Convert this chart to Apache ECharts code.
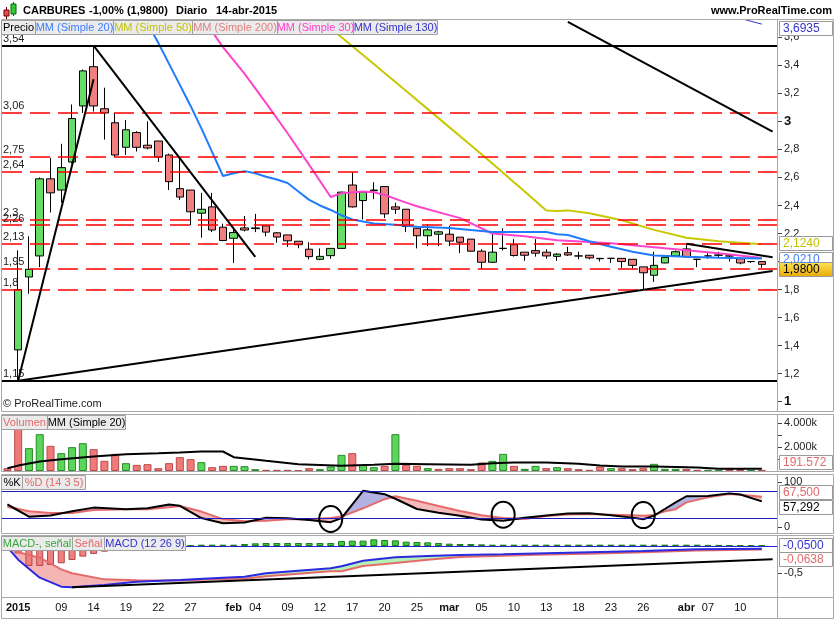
<!DOCTYPE html>
<html><head><meta charset="utf-8">
<script src="https://cdn.jsdelivr.net/npm/echarts@6/dist/echarts.min.js"></script>
<style>html,body{margin:0;padding:0;background:#fff}#c{width:835px;height:620px}</style>
</head><body><div id="c"></div>
<script>
// ---------------- DATA ----------------
const dates = ['2014-12-31',
'2015-01-02','2015-01-05','2015-01-07','2015-01-08','2015-01-09','2015-01-12','2015-01-13','2015-01-14','2015-01-15','2015-01-16','2015-01-19','2015-01-20','2015-01-21','2015-01-22','2015-01-23','2015-01-26','2015-01-27','2015-01-28','2015-01-29','2015-01-30',
'2015-02-02','2015-02-03','2015-02-04','2015-02-05','2015-02-06','2015-02-09','2015-02-10','2015-02-11','2015-02-12','2015-02-13','2015-02-16','2015-02-17','2015-02-18','2015-02-19','2015-02-20','2015-02-23','2015-02-24','2015-02-25','2015-02-26','2015-02-27',
'2015-03-02','2015-03-03','2015-03-04','2015-03-05','2015-03-06','2015-03-09','2015-03-10','2015-03-11','2015-03-12','2015-03-13','2015-03-16','2015-03-17','2015-03-18','2015-03-19','2015-03-20','2015-03-23','2015-03-24','2015-03-25','2015-03-26','2015-03-27','2015-03-30','2015-03-31',
'2015-04-01','2015-04-02','2015-04-07','2015-04-08','2015-04-09','2015-04-10','2015-04-13','2015-04-14'];

const dateTicks = [['2015-01-02','2015'],['2015-01-09','09'],['2015-01-14','14'],['2015-01-19','19'],['2015-01-22','22'],['2015-01-27','27'],
['2015-02-02','feb'],['2015-02-04','04'],['2015-02-09','09'],['2015-02-12','12'],['2015-02-17','17'],['2015-02-20','20'],['2015-02-25','25'],
['2015-03-02','mar'],['2015-03-05','05'],['2015-03-10','10'],['2015-03-13','13'],['2015-03-18','18'],['2015-03-23','23'],['2015-03-26','26'],
['2015-04-01','abr'],['2015-04-07','07'],['2015-04-10','10']];

const opens  = [null,1.37,1.89,2.04,2.59,2.51,2.71,3.11,3.39,3.09,2.99,2.815,2.92,2.83,2.86,2.76,2.52,2.51,2.345,2.39,2.245,2.166,2.24,2.24,2.255,2.205,2.19,2.145,2.088,2.016,2.042,2.094,2.546,2.435,2.51,2.535,2.39,2.373,2.238,2.184,2.195,2.195,2.174,2.16,2.074,1.995,2.095,2.12,2.067,2.078,2.067,2.037,2.063,2.04,2.045,2.023,2.023,2.023,2.016,1.962,1.902,1.99,2.04,2.09,2.016,2.04,2.047,2.04,2.02,2.0,2.0];
const closes = [null,1.80,1.945,2.59,2.49,2.67,3.02,3.36,3.11,3.06,2.76,2.94,2.815,2.81,2.745,2.57,2.46,2.355,2.373,2.225,2.15,2.207,2.225,2.235,2.21,2.175,2.148,2.12,2.035,2.037,2.094,2.495,2.39,2.495,2.505,2.34,2.373,2.25,2.184,2.226,2.212,2.146,2.138,2.074,1.995,2.067,2.093,2.043,2.045,2.06,2.04,2.053,2.047,2.04,2.026,2.02,2.023,2.0,1.973,1.92,1.973,2.03,2.07,2.034,2.016,2.04,2.045,2.04,1.99,2.0,1.98];
const lows   = [null,1.15,1.77,1.96,2.35,2.42,2.70,3.06,3.07,2.87,2.745,2.76,2.785,2.80,2.71,2.51,2.44,2.26,2.17,2.21,2.145,1.99,2.215,2.21,2.18,2.135,2.105,2.095,2.016,2.01,2.02,2.09,2.385,2.30,2.445,2.31,2.34,2.21,2.094,2.11,2.11,2.11,2.06,2.07,1.947,1.99,2.08,2.035,2.005,2.035,2.02,2.005,2.04,2.016,2.016,2.0,1.99,1.955,1.95,1.80,1.855,1.988,2.04,2.03,1.96,2.02,2.023,2.0,1.98,1.99,1.955];
const highs  = [null,2.08,2.18,2.60,2.74,2.84,3.12,3.37,3.54,3.24,3.06,3.01,2.93,3.00,2.86,2.77,2.74,2.51,2.49,2.49,2.27,2.235,2.325,2.34,2.255,2.21,2.19,2.145,2.138,2.094,2.095,2.50,2.635,2.50,2.566,2.535,2.42,2.375,2.24,2.266,2.22,2.256,2.175,2.16,2.088,2.213,2.238,2.16,2.067,2.16,2.088,2.06,2.105,2.07,2.047,2.025,2.025,2.025,2.016,1.962,2.07,2.03,2.08,2.124,2.02,2.06,2.07,2.05,2.02,2.0,2.0];

// volume in thousands
const volumes = [236,3569,1903,3069,2097,1486,1986,2319,1819,847,1431,653,514,569,236,653,1153,986,736,319,431,431,403,153,97,97,97,60,236,153,375,1347,1486,514,319,431,3069,514,431,236,181,236,236,153,708,847,1431,431,181,431,236,319,236,153,97,375,236,236,153,236,597,181,181,181,97,97,97,153,153,97,97];
const volMA20 = [[0,236],[1,450],[3,792],[5,986],[8,1200],[11,1400],[14,1480],[16,1540],[18,1620],[20,1625],[21,1150],[24,850],[27,570],[31,430],[34,514],[36,597],[39,569],[43,514],[45,650],[47,700],[50,700],[53,600],[55,460],[57,375],[60,375],[64,290],[66,190],[70,191.572]];

const sma20 = [[13,3.70],[14,3.56],[15,3.41],[16,3.26],[17,3.11],[18,2.95],[19,2.78],[20,2.61],[21,2.63],[22,2.645],[23,2.63],[24,2.605],[25,2.585],[26,2.56],[27,2.50],[28,2.44],[29,2.40],[30,2.368],[31,2.33],[32,2.30],[33,2.285],[34,2.272],[36,2.262],[38,2.248],[41,2.24],[43,2.225],[45,2.211],[50,2.211],[51,2.195],[52,2.19],[54,2.145],[56,2.105],[58,2.07],[60,2.043],[63,2.034],[66,2.027],[70,2.021]];
const sma30 = [[18,3.77],[19,3.64],[20,3.53],[22,3.34],[24,3.13],[26,2.915],[28,2.69],[30,2.46],[31,2.487],[33,2.499],[34,2.494],[35,2.475],[37,2.42],[38,2.395],[42,2.31],[45,2.20],[48,2.18],[51,2.152],[56,2.13],[61,2.095],[66,2.06],[70,2.025]];
const sma50 = [[29,3.73],[31,3.60],[34,3.409],[37,3.216],[40,3.023],[43,2.83],[45,2.70],[47,2.565],[48,2.50],[50,2.365],[51,2.36],[52,2.365],[54,2.345],[57,2.295],[60,2.226],[63,2.17],[66,2.145],[70,2.124]];
const sma130 = [[68,3.735],[69,3.714],[70,3.6935]];

const redLevels = [3.06, 2.75, 2.64, 2.3, 2.26, 2.13, 1.95, 1.8];
const blackLevels = [3.54, 1.15];
const trendLines = [[[1,1.15],[8,3.30]],[[8,3.54],[23,2.033]],[[52,3.71],[71,2.927]],[[1,1.15],[71,1.933]],[[63,2.127],[71,2.03]]];

const stochIdx = [0,2,4,6,8,11,13,15,16,18,20,22,24,26,28,30,31,33,35,36,38,40,42,44,46,48,50,52,54,56,58,59,60,61,62,63,65,67,68,70];
const stochK = [50.8,23.5,26,35.5,43.5,40,42,50.5,47.5,20.5,9.2,10.8,21.4,20,16.3,11.5,20.5,80.5,73,63,40.5,32,25.5,17.5,14.7,21,26,30.5,31,26.5,21.5,18,26,40.5,55,68.5,69,74.8,72.5,57.292];
const stochD = [45.5,35.5,31.5,31.5,38.5,39.8,39.8,44.5,47,34.8,18.3,13.5,14.5,17.8,17.8,20.5,23.8,42,62,68.5,58.5,47,36,26.5,20.5,18.5,25,28.5,29.2,28,26.5,25.5,27.5,35.5,40,55,66,73.4,72,67.5];
const stochCircles = [[30.1,18.5],[46.1,28],[59.2,27]];

const macdIdx = [0,1,3,5,6,9,12,16,20,22,24,27,30,31,33,36,39,42,46,50,54,59,64,70];
const macdLine = [-0.02,-0.25,-0.58,-0.745,-0.757,-0.715,-0.655,-0.623,-0.58,-0.562,-0.50,-0.452,-0.409,-0.37,-0.27,-0.207,-0.183,-0.165,-0.153,-0.134,-0.116,-0.092,-0.061,-0.05];
const macdSignal = [0.03,-0.116,-0.214,-0.428,-0.50,-0.611,-0.625,-0.633,-0.604,-0.60,-0.555,-0.507,-0.464,-0.462,-0.368,-0.311,-0.25,-0.202,-0.177,-0.158,-0.14,-0.116,-0.081,-0.0638];
const macdHist = [null,-0.134,-0.366,-0.366,-0.348,-0.317,-0.256,-0.195,-0.146,-0.104,
 -0.07,-0.05,-0.03,-0.02,-0.01,0.0,0.01,0.015,0.024,0.024,
 0.024,0.024,0.037,0.049,0.055,0.055,0.055,0.055,0.055,0.055,
 0.055,0.092,0.098,0.098,0.122,0.11,0.104,0.079,0.073,0.067,
 0.055,0.043,0.037,0.037,0.03,0.024,0.024,0.024,0.024,0.024,
 0.024,0.024,0.024,0.024,0.024,0.024,0.024,0.024,0.024,0.024,
 0.024,0.024,0.024,0.024,0.024,0.02,0.02,0.018,0.018,0.015,0.012];
const macdTrend = [[6,-0.757],[71,-0.241]];

const priceTicks = [1,1.2,1.4,1.6,1.8,2,2.2,2.4,2.6,2.8,3,3.2,3.4,3.6];
const volTicks = [1000,2000,3000,4000];
const volLabels = [2000,4000];
const stochTicks = [0,100];
const macdTicks = [-0.5];

// ---------------- CHART ----------------
const FONT = '"Liberation Sans", Arial, sans-serif';
const chart = echarts.init(document.getElementById('c'), null, {renderer:'canvas'});
const cats = dates.concat(['']);
const tickMap = {}; dateTicks.forEach(function(d){ tickMap[d[0]] = d[1]; });
const comma = function(v){ return String(v).replace('.', ','); };

const grids = [
  {left:2, top:20, width:776, height:391},
  {left:2, top:415, width:776, height:56},
  {left:2, top:475, width:776, height:58},
  {left:2, top:536, width:776, height:61}
];
const xAxes = [0,1,2,3].map(function(i){
  return {type:'category', gridIndex:i, data:cats, boundaryGap:true,
    axisLine:{show:false}, axisTick:{show:false}, splitLine:{show:false},
    axisLabel: i === 3 ? {show:true, interval:0, margin:5, color:'#111', fontSize:11, fontFamily:FONT,
      formatter:function(v){ var l = tickMap[v]; if(!l) return ''; return (l.length === 2) ? l : '{b|' + l + '}'; },
      rich:{b:{fontWeight:'bold', fontSize:11, fontFamily:FONT, color:'#111'}}} : {show:false}};
});
function yAx(i, min, max, ticks, labels, fmt){
  return {type:'value', gridIndex:i, position:'right', min:min, max:max, scale:false,
    splitLine:{show:false}, axisLine:{show:false},
    axisTick:{show:true, length:4, customValues:ticks, lineStyle:{color:'#444'}},
    axisLabel:{show:true, customValues:labels, formatter:fmt, margin:6, fontSize:11, color:'#222', fontFamily:FONT,
      rich:{b:{fontWeight:'bold', fontSize:13, fontFamily:FONT, color:'#111'}}}};
}
const yAxes = [
  yAx(0, 0.934, 3.723, priceTicks, priceTicks, function(v){ var r = Math.round(v*10)/10; return Number.isInteger(r) ? '{b|' + r + '}' : comma(r); }),
  yAx(1, 0, 4667, volTicks, volLabels, function(v){ return (v/1000) + '.000k'; }),
  yAx(2, -12.3, 115.2, stochTicks, stochTicks, function(v){ return String(v); }),
  yAx(3, -0.934, 0.183, macdTicks, macdTicks, function(v){ return comma(v); })
];

const candleData = dates.map(function(d, i){ return opens[i] == null ? '-' : [opens[i], closes[i], lows[i], highs[i]]; });
const volData = volumes.map(function(v, i){
  var up = closes[i] != null && i > 0 && closes[i-1] != null && closes[i] > closes[i-1];
  return {value:v, itemStyle:{color: up ? '#5ad65a' : '#f07a7a', borderColor: up ? '#2b8a2b' : '#b84d4d', borderWidth:1}};
});

const mlRed = redLevels.map(function(v){ return {yAxis:v, lineStyle:{color:'#ff0000', width:1.5, type:[20,8]},
  label:{show:true, position:'insideStartTop', formatter:comma(v), color:'#222', fontSize:11, fontFamily:FONT, distance:[1,1]}}; });
const mlBlack = blackLevels.map(function(v){ return {yAxis:v, lineStyle:{color:'#000', width:2, type:'solid'},
  label:{show:true, position:'insideStartTop', formatter:comma(v), color:'#222', fontSize:11, fontFamily:FONT, distance:[1,1]}}; });
const mlTrend = trendLines.map(function(t){ return [{coord:t[0]}, {coord:t[1]}]; });

function pairs(idx, vals){ return idx.map(function(x, k){ return [x, vals[k]]; }); }
function bandSeries(idx, a, b, xi, colUp, colDn, stack){
  var base = idx.map(function(x,k){ return [x, Math.min(a[k], b[k])]; });
  var up = idx.map(function(x,k){ return [x, Math.max(a[k]-b[k], 0)]; });
  var dn = idx.map(function(x,k){ return [x, Math.max(b[k]-a[k], 0)]; });
  var common = {type:'line', xAxisIndex:xi, yAxisIndex:xi, stack:stack, stackStrategy:'all', symbol:'none', showSymbol:false, silent:true, lineStyle:{width:0, opacity:0}, z:2};
  return [
    Object.assign({}, common, {data:base}),
    Object.assign({}, common, {data:up, areaStyle:{color:colUp, opacity:1}}),
    Object.assign({}, common, {data:dn, areaStyle:{color:colDn, opacity:1}})
  ];
}
function ma(data, color, width, xi){ return {type:'line', xAxisIndex:xi||0, yAxisIndex:xi||0, data:data, symbol:'none', showSymbol:false, silent:true, lineStyle:{color:color, width:width}, z:4}; }

const series = [
  {type:'candlestick', xAxisIndex:0, yAxisIndex:0, data:candleData, barWidth:8, z:3,
   itemStyle:{color:'#66dd66', color0:'#f08080', borderColor:'#000', borderColor0:'#000', borderColorDoji:'#000', borderWidth:1},
   markLine:{symbol:['none','none'], silent:true, animation:false, data: mlRed.concat(mlBlack, mlTrend.map(function(p){ return [Object.assign({lineStyle:{color:'#000', width:2, type:'solid'}, label:{show:false}}, p[0]), p[1]]; }))}},
  ma(sma130, '#3333cc', 1),
  ma(sma50, '#c8c800', 2),
  ma(sma30, '#ff44cc', 2),
  ma(sma20, '#1f7bff', 2),
  {type:'bar', xAxisIndex:1, yAxisIndex:1, data:volData, barWidth:8, silent:true, z:2},
  ma(volMA20, '#000', 2, 1)
].concat(
  bandSeries(stochIdx, stochK, stochD, 2, '#b3b3e3', '#f5baba', 'st'),
  [
    ma(pairs(stochIdx, stochD), '#e56b6b', 2, 2),
    Object.assign(ma(pairs(stochIdx, stochK), '#000', 2, 2), {markLine:{symbol:['none','none'], silent:true, label:{show:false},
      data:[{yAxis:80, lineStyle:{color:'#1c1cc0', width:1, type:'solid'}}, {yAxis:20, lineStyle:{color:'#1c1cc0', width:1, type:'solid'}}]}})
  ],
  bandSeries(macdIdx, macdLine, macdSignal, 3, '#b5f0b5', '#f5b5b5', 'mc'),
  [
    {type:'bar', xAxisIndex:3, yAxisIndex:3, barWidth:7, silent:true, z:3,
     data: macdHist.map(function(v){ return v == null ? '-' : {value:v, itemStyle: v >= 0 ? {color:'#3ccf3c', borderColor:'#1d7d1d', borderWidth:1} : {color:'#f08080', borderColor:'#b04848', borderWidth:1}}; })},
    ma(pairs(macdIdx, macdSignal), '#e56b6b', 2, 3),
    Object.assign(ma(pairs(macdIdx, macdLine), '#2a2ae0', 2, 3), {markLine:{symbol:['none','none'], silent:true, label:{show:false},
      data:[{yAxis:0, lineStyle:{color:'#2222cc', width:1, type:'solid'}}, [{coord:macdTrend[0], lineStyle:{color:'#000', width:2, type:'solid'}}, {coord:macdTrend[1]}]]}})
  ]
);

// static graphics
const FR = '#a8a8a8';
const G = [];
function R(x,y,w,h,fill,stroke,z){ G.push({type:'rect', silent:true, z:z||50, shape:{x:x,y:y,width:w,height:h}, style:{fill:fill||'none', stroke:stroke||null, lineWidth:1}}); }
function L(x1,y1,x2,y2,c,z){ G.push({type:'line', silent:true, z:z||50, shape:{x1:x1,y1:y1,x2:x2,y2:y2}, style:{stroke:c||FR, lineWidth:1}}); }
function T(x,y,t,o){ G.push({type:'text', silent:true, z:(o&&o.z)||101, x:x, y:y, style:{text:t, font:(o&&o.font)||('11px '+FONT), fill:(o&&o.fill)||'#000', align:(o&&o.align)||'left', verticalAlign:'middle'}}); }
// header
R(0,0,835,19,'#fff',null,90);
L(6.5,7,6.5,19,'#600',91); R(4,10,5,6,'#e05050','#700',91);
L(13.5,2,13.5,16,'#060',91); R(11,4,5,10,'#35c935','#060',91);
T(23,10.5,'CARBURES',{font:'bold 11px '+FONT});
T(89,10.5,'-1,00% (1,9800)',{font:'bold 11px '+FONT});
T(176,10.5,'Diario',{font:'bold 11px '+FONT});
T(216,10.5,'14-abr-2015',{font:'bold 11px '+FONT});
T(832,10.5,'www.ProRealTime.com',{font:'bold 11px '+FONT, align:'right'});
// frames
[[19.5,392],[414.5,57],[474.5,59],[535.5,62],[597.5,21]].forEach(function(p){
  R(1.5,p[0],832,p[1],null,FR,60); L(777.5,p[0],777.5,p[0]+p[1],FR,60);
});
// legend boxes
function legendRow(y, items){
  items.forEach(function(it){ R(it[0]+0.5, y+0.5, it[1], 14, '#ebebeb', '#a0a0a0', 100); T(it[0]+0.5+it[1]/2, y+7.5, it[2], {fill:it[3], align:'center'}); });
}
legendRow(20, [[1,34,'Precio','#000'],[35,78,'MM (Simple 20)','#3c7dff'],[113,79,'MM (Simple 50)','#c2c200'],[192,85,'MM (Simple 200)','#e07f7f'],[277,76,'MM (Simple 30)','#ff3fcf'],[353,84,'MM (Simple 130)','#3434cc']]);
legendRow(415, [[1,46,'Volumen','#e06a6a'],[47,78,'MM (Simple 20)','#000']]);
legendRow(475, [[1,21,'%K','#000'],[22,63,'%D (14 3 5)','#e06a6a']]);
legendRow(536, [[1,71,'MACD-, señal','#3aa63a'],[72,32,'Señal','#e06a6a'],[104,81,'MACD (12 26 9)','#3333cc']]);
T(3,404,'© ProRealTime.com',{fill:'#222', z:100});

chart.setOption({animation:false, backgroundColor:'#fff', grid:grids, xAxis:xAxes, yAxis:yAxes, series:series, graphic:G});

// dynamic graphics: value boxes and annotation ellipses
const D = [];
function vbox(y, txt, color, gold, bold){
  D.push({type:'rect', silent:true, z:110, shape:{x:779.5, y:Math.round(y-7)+0.5, width:53, height:14},
    style:{fill: gold ? new echarts.graphic.LinearGradient(0,0,0,1,[{offset:0,color:'#ffe45a'},{offset:1,color:'#e8a900'}]) : '#fff', stroke:'#9a9a9a', lineWidth:1}});
  D.push({type:'text', silent:true, z:111, x:783, y:Math.round(y)+0.5, style:{text:txt, fill:color, font:(bold?'bold ':'')+'12px '+FONT, verticalAlign:'middle'}});
}
function py(g, v){ return chart.convertToPixel({gridIndex:g}, [0, v])[1]; }
vbox(Math.max(py(0, sma130[sma130.length-1][1]), 28), '3,6935', '#3333cc');
var y50 = py(0, sma50[sma50.length-1][1]);
vbox(y50 - 1, '2,1240', '#c2c200');
var y20 = py(0, sma20[sma20.length-1][1]);
vbox(y20, '2,0210', '#3c7dff');
vbox(Math.max(py(0, closes[closes.length-1]), y20 + 10), '1,9800', '#000', true, false);
vbox(Math.min(py(1, volMA20[volMA20.length-1][1]), 462), '191.572', '#e06a6a');
var yd = py(2, stochD[stochD.length-1]), yk = py(2, stochK[stochK.length-1]);
var mid = (yd + yk) / 2;
vbox(mid - 7.5, '67,500', '#e06a6a');
vbox(mid + 7.5, '57,292', '#000');
var ym = py(3, macdLine[macdLine.length-1]);
vbox(ym - 4, '-0,0500', '#3333cc');
vbox(ym + 10, '-0,0638', '#e06a6a');
stochCircles.forEach(function(c){
  var p = chart.convertToPixel({gridIndex:2}, c);
  D.push({type:'ellipse', silent:true, z:105, shape:{cx:p[0], cy:p[1], rx:11.5, ry:13}, style:{fill:'none', stroke:'#000', lineWidth:2}});
});
chart.setOption({graphic: G.concat(D)});
</script></body></html>
